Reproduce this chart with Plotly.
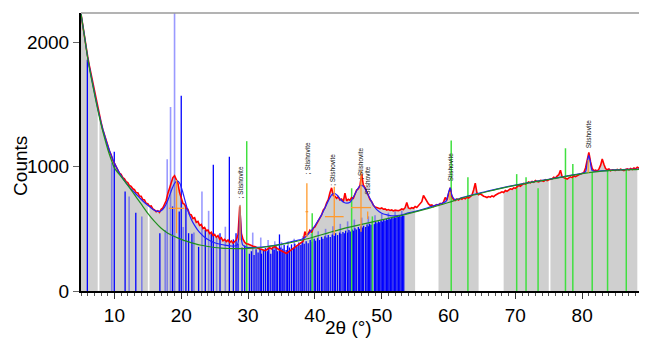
import plotly.graph_objects as go

# ---------------- data ----------------
scan_start = 5.0
scan_step = 0.25
observed = [
    2228, 2135, 2055, 1962, 1885, 1812, 1745, 1668, 1602, 1531, 1478, 1412, 1358, 1301, 1262, 1210, 1172, 1125, 1098, 1055,
    1028, 990, 975, 948, 938, 912, 902, 880, 872, 848, 842, 822, 815, 792, 790, 764, 762, 735, 732, 705,
    702, 682, 684, 660, 652, 638, 646, 632, 658, 668, 698, 728, 785, 826, 884, 912, 928, 900, 868, 792,
    752, 705, 698, 665, 658, 618, 612, 582, 590, 552, 560, 528, 535, 502, 512, 485, 490, 462, 472, 446,
    455, 432, 446, 418, 428, 404, 415, 398, 410, 390, 402, 385, 398, 410, 455, 680, 462, 415, 392, 380,
    378, 370, 366, 360, 358, 350, 346, 338, 336, 328, 325, 332, 340, 348, 338, 352, 356, 344, 338, 330,
    322, 312, 308, 302, 312, 322, 336, 348, 356, 366, 372, 382, 392, 402, 478, 445, 462, 488, 470, 505,
    515, 540, 562, 598, 612, 650, 668, 708, 735, 790, 830, 768, 762, 745, 758, 732, 740, 718, 786, 725,
    738, 730, 752, 745, 780, 812, 822, 850, 940, 852, 832, 792, 768, 735, 718, 690, 675, 672, 665, 662,
    668, 658, 660, 650, 655, 648, 652, 644, 650, 648, 646, 652, 660, 655, 670, 712, 668, 662, 670, 665,
    680, 672, 690, 702, 718, 768, 745, 712, 700, 688, 692, 680, 686, 695, 690, 705, 700, 715, 752, 730,
    780, 830, 760, 735, 728, 740, 732, 745, 738, 750, 742, 755, 748, 762, 770, 812, 868, 790, 775, 782,
    770, 762, 758, 752, 760, 755, 765, 758, 770, 780, 786, 790, 798, 792, 808, 802, 815, 822, 818, 830,
    826, 838, 850, 842, 858, 866, 860, 872, 878, 870, 882, 875, 888, 880, 878, 890, 885, 882, 895, 888,
    895, 900, 902, 915, 908, 925, 935, 972, 920, 912, 905, 900, 910, 918, 912, 925, 920, 930, 935, 942,
    945, 952, 990, 1070, 1115, 1040, 985, 968, 972, 965, 980, 1010, 1062, 1020, 985, 975, 982, 968, 975, 972,
    970, 978, 972, 980, 975, 968, 978, 982, 975, 985, 978, 990, 982, 995, 988, 1000, 992, 1005, 998, 1010,
]
two_theta = [scan_start + i * scan_step for i in range(len(observed))]

calc_x = [
    5.0, 5.5, 6.0, 6.5, 7.0, 7.5, 8.0, 8.5, 9.0, 9.5,
    10.0, 10.5, 11.0, 11.5, 12.0, 12.5, 13.0, 13.5, 14.0, 14.5,
    15.0, 15.5, 16.0, 16.5, 17.0, 17.5, 18.0, 18.5, 19.0, 19.4,
    19.8, 20.2, 20.6, 21.0, 21.5, 22.0, 22.5, 23.0, 23.5, 24.0,
    24.5, 25.0, 25.5, 26.0, 26.5, 27.0, 27.5, 28.0, 28.4, 28.6,
    28.8, 29.0, 29.2, 29.5, 30.0, 31.0, 32.0, 33.0, 34.0, 35.0,
    36.0, 37.0, 38.0, 38.5, 39.0, 39.5, 40.0, 40.5, 41.0, 41.5,
    42.0, 42.5, 42.9, 43.3, 43.8, 44.3, 44.8, 45.3, 45.8, 46.3,
    46.8, 47.2, 47.6, 48.0, 48.4, 48.8, 49.3, 50.0, 50.8, 51.5,
    52.3, 53.0, 54.0, 55.0, 56.0, 57.0, 58.0, 59.0, 59.6, 60.0,
    60.25, 60.5, 60.9, 61.5, 62.0, 63.0, 64.0, 66.0, 68.0, 70.0,
    72.0, 74.0, 76.0, 78.0, 80.0, 80.5, 80.8, 81.0, 81.2, 81.5,
    82.0, 84.0, 86.0, 88.0, 89.7,
]
calc_y = [
    2230, 2060, 1880, 1735, 1600, 1470, 1355, 1258, 1170, 1095,
    1030, 975, 928, 888, 852, 820, 792, 765, 738, 712,
    690, 668, 650, 640, 646, 675, 730, 805, 865, 885,
    865, 800, 720, 645, 578, 528, 488, 458, 433, 414,
    399, 388, 380, 374, 369, 365, 362, 362, 372, 420,
    690, 420, 370, 358, 350, 350, 354, 360, 368, 378,
    390, 403, 416, 430, 458, 488, 525, 568, 612, 668,
    725, 772, 785, 772, 738, 714, 706, 716, 758, 812,
    848, 845, 815, 770, 726, 688, 652, 625, 612, 604,
    606, 612, 628, 640, 655, 672, 690, 706, 720, 790,
    830, 770, 738, 740, 752, 765, 780, 805, 830, 852,
    872, 890, 908, 928, 946, 958, 1050, 1092, 1045, 968,
    962, 971, 976, 979, 982,
]

bg_x = [5.0, 5.5, 6.0, 6.5, 7.0, 7.5, 8.0, 8.5, 9.0, 9.5,
        10.0, 11.0, 12.0, 13.0, 14.0, 15.0, 16.0, 17.0, 18.0, 19.0,
        20.0, 21.0, 22.0, 23.0, 24.0, 25.0, 26.0, 27.0, 28.0, 29.0,
        30.0, 32.0, 34.0, 36.0, 38.0, 40.0, 42.0, 44.0, 46.0, 48.0,
        50.0, 52.0, 54.0, 56.0, 58.0, 60.0, 62.0, 64.0, 66.0, 68.0,
        70.0, 72.0, 74.0, 76.0, 78.0, 80.0, 82.0, 84.0, 86.0, 88.0, 89.7]
bg_y = [2230, 2055, 1875, 1725, 1590, 1460, 1340, 1235, 1140, 1060,
        990, 920, 850, 775, 700, 625, 560, 505, 465, 438,
        415, 397, 381, 368, 358, 350, 345, 342, 341, 341,
        343, 350, 365, 385, 408, 437, 468, 498, 524, 548,
        572, 596, 622, 650, 680, 712, 748, 775, 802, 828,
        850, 870, 888, 906, 926, 944, 958, 968, 974, 977, 980]

# regions of the pattern used in the refinement (grey)
region_start = [5.0, 7.75, 15.25, 58.5, 68.25, 75.25]
region_end = [7.5, 15.0, 55.0, 64.5, 75.0, 88.25]

# reflection sticks, phase 1 (strong blue)
dark_pos = [
    5.95, 9.98, 11.6, 13.2, 16.8, 18.7, 19.7, 20.0, 20.7, 21.1,
    21.6, 22.6, 23.6, 24.5, 24.8, 25.8, 27.2, 27.8, 28.2, 28.5,
    29.1, 29.5, 30.2, 30.5, 30.9, 31.2, 31.5, 31.8, 32.0, 32.3,
    32.6, 32.9, 33.1, 33.4, 33.7, 33.9, 34.2, 34.4, 34.7, 34.9,
    35.2, 35.4, 35.7, 35.9, 36.2, 36.5, 36.8, 37.0, 37.3, 37.6,
    37.9, 38.1, 38.4, 38.7, 39.0, 39.3, 39.6, 39.9, 40.1, 40.4,
    40.7, 41.0, 41.2, 41.5, 41.8, 42.0, 42.3, 42.6, 42.9, 43.1,
    43.4, 43.7, 43.9, 44.2, 44.4, 44.6, 44.9, 45.1, 45.3, 45.6,
    45.8, 46.0, 46.2, 46.5, 46.7, 46.9, 47.1, 47.3, 47.6, 47.8,
    48.0, 48.2, 48.4, 48.6, 48.9, 49.1, 49.3, 49.5, 49.7, 49.9,
    50.1, 50.3, 50.5, 50.7, 50.9, 51.1, 51.3, 51.5, 51.7, 51.9,
    52.1, 52.3, 52.5, 52.7, 52.9, 53.1, 53.3]
dark_h = [
    1860, 1120, 800, 630, 465, 680, 640, 1570, 690, 465,
    460, 355, 490, 465, 1015, 465, 1080, 415, 465, 380,
    350, 365, 300, 320, 290, 335, 310, 340, 300, 330,
    345, 320, 350, 300, 355, 330, 360, 320, 455, 350,
    340, 370, 330, 365, 350, 375, 345, 380, 360, 390,
    370, 395, 380, 400, 385, 410, 395, 420, 405, 425,
    410, 435, 420, 440, 430, 450, 435, 455, 445, 465,
    450, 470, 460, 475, 465, 485, 470, 490, 478, 495,
    485, 505, 495, 515, 500, 520, 510, 525, 515, 535,
    520, 540, 530, 548, 538, 555, 545, 560, 552, 568,
    558, 575, 565, 580, 572, 588, 578, 592, 585, 598,
    590, 602, 595, 606, 598, 610, 605]

# reflection sticks, phase 1 (faint blue)
light_pos = [9.6, 12.2, 14.1, 17.6, 17.9, 18.4, 19.0, 20.3, 21.9, 23.1,
             24.1, 25.3, 26.6, 30.7, 31.9, 33.0, 34.0, 35.0, 36.0, 36.9,
             38.2, 39.5, 40.5, 41.6, 42.7, 43.8, 44.9, 45.9, 47.0, 48.0,
             49.0, 50.0, 51.0, 52.0, 53.0]
light_h = [1030, 760, 600, 491, 1060, 1480, 2240, 515, 470, 800,
           645, 430, 517, 470, 430, 410, 400, 395, 400, 420,
           440, 460, 480, 500, 520, 540, 560, 575, 590, 600,
           610, 620, 630, 640, 645]

# reflection sticks, phase 2 (green)
green_pos = [29.8, 39.6, 45.5, 48.6, 60.4, 62.9, 70.2, 71.6, 73.4, 77.5, 78.6, 81.5, 83.8, 86.6]
green_h = [1205, 625, 826, 600, 1210, 915, 940, 915, 826, 1148, 1022, 960, 970, 975]

# identified peaks (orange markers)
peak_x = [19.3, 28.8, 38.8, 42.9, 46.9, 47.9, 60.2, 80.9]
peak_lo = [465, 410, 437, 450, 477, 580, 732, 952]
peak_hi = [893, 690, 866, 839, 973, 640, 799, 1054]
peak_bar_y = [665, 0, 638, 598, 671, 0, 0, 0]
peak_bar_half = [1.15, 0, 0.2, 1.4, 1.5, 0, 0, 0]

label_x = [28.8, 38.85, 42.7, 46.9, 47.75, 60.3, 81.0]
label_y = [730, 925, 829, 880, 759, 866, 1134]
label_text = ["; Stishovite", "; Stishovite", "; Stishovite", "; Stishovite",
              "Stishovite", "Stishovite", "Stishovite"]

x_ticks = [10, 20, 30, 40, 50, 60, 70, 80]
y_ticks = [0, 1000, 2000]

# ---------------- figure ----------------
FONT = "Liberation Sans, Arial, Helvetica, sans-serif"
fig = go.Figure()

# grey refinement regions, filled under the observed pattern
for a, b in zip(region_start, region_end):
    xs = [t for t in two_theta if a - 1e-9 <= t <= b + 1e-9]
    ys = [observed[two_theta.index(t)] for t in xs]
    fig.add_trace(go.Scatter(x=xs, y=ys, mode="lines", line=dict(width=0, color="#cfcfcf"),
                             fill="tozeroy", fillcolor="#cfcfcf", hoverinfo="skip"))


def sticks(pos, h):
    xs, ys = [], []
    for p, v in zip(pos, h):
        xs += [p, p, None]
        ys += [0, v, None]
    return xs, ys


sx, sy = sticks(light_pos, light_h)
fig.add_trace(go.Scatter(x=sx, y=sy, mode="lines", line=dict(color="rgba(30,30,255,0.45)", width=1.6)))
sx, sy = sticks(dark_pos, dark_h)
fig.add_trace(go.Scatter(x=sx, y=sy, mode="lines", line=dict(color="#0000ff", width=1.3)))
sx, sy = sticks(green_pos, green_h)
fig.add_trace(go.Scatter(x=sx, y=sy, mode="lines", line=dict(color="#40e040", width=1.5)))

fig.add_trace(go.Scatter(x=two_theta, y=observed, mode="lines", line=dict(color="#ff0000", width=1.6)))
fig.add_trace(go.Scatter(x=calc_x, y=calc_y, mode="lines", line=dict(color="#2020ff", width=1.2, shape="spline", smoothing=0.6)))
fig.add_trace(go.Scatter(x=bg_x, y=bg_y, mode="lines", line=dict(color="#1f8f1f", width=1.2, shape="spline", smoothing=0.8)))

ox, oy = [], []
for x, lo, hi, by, hw in zip(peak_x, peak_lo, peak_hi, peak_bar_y, peak_bar_half):
    ox += [x, x, None]
    oy += [lo, hi, None]
    if hw > 0:
        ox += [x - hw, x + hw, None]
        oy += [by, by, None]
fig.add_trace(go.Scatter(x=ox, y=oy, mode="lines", line=dict(color="#ff9a2e", width=1.3)))

for x, y, t in zip(label_x, label_y, label_text):
    fig.add_annotation(x=x, y=y, text=t, showarrow=False, textangle=-90,
                       xanchor="center", yanchor="bottom",
                       font=dict(family=FONT, size=6.5, color="#111111"))

# page has an 8px body margin: figure origin sits at page (8, 8)
fig.add_annotation(x=-0.106, y=0.45, xref="paper", yref="paper", text="Counts", showarrow=False,
                   textangle=-90, xanchor="center", yanchor="middle",
                   font=dict(family=FONT, size=19, color="#000000"))
fig.add_annotation(x=0.472, y=-0.133, xref="paper", yref="paper", text="2θ (°)", showarrow=False,
                   xanchor="center", yanchor="middle", font=dict(family=FONT, size=19, color="#000000"))

fig.add_shape(type="line", xref="paper", yref="paper", x0=0, x1=1, y0=1, y1=1,
              line=dict(color="#9a9a9a", width=1.5))

fig.update_layout(
    width=647, height=340,
    margin=dict(l=73, r=8, t=5, b=57),
    paper_bgcolor="white", plot_bgcolor="white",
    showlegend=False,
    font=dict(family=FONT, size=19, color="#000000"),
    xaxis=dict(range=[5, 89.7], tickvals=x_ticks, ticks="outside", ticklen=6, tickwidth=1,
               tickcolor="#333333", showline=True, linecolor="#000000", linewidth=2,
               showgrid=False, zeroline=False,
               minor=dict(dtick=1, ticks="outside", ticklen=3, tickcolor="#555555", showgrid=False)),
    yaxis=dict(range=[0, 2236], tickvals=y_ticks, ticks="outside", ticklen=6, tickwidth=1,
               tickcolor="#666666", showline=True, linecolor="#000000", linewidth=2,
               showgrid=False, zeroline=False),
)

fig.write_html("out.html")
